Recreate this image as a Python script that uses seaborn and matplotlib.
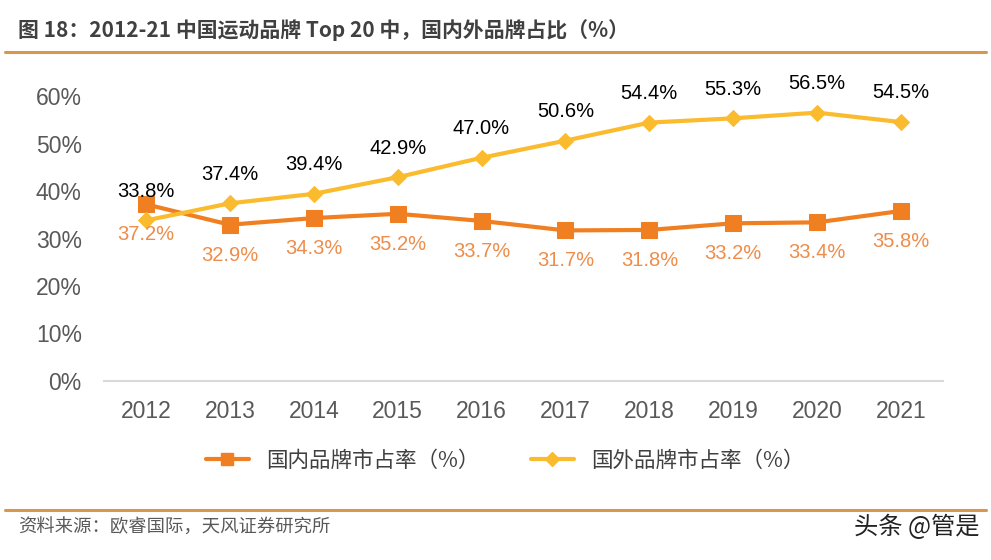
import pandas as pd
import matplotlib
matplotlib.use('Agg')
import matplotlib.pyplot as plt
from matplotlib.lines import Line2D
import seaborn as sns

# data
years = [2012, 2013, 2014, 2015, 2016, 2017, 2018, 2019, 2020, 2021]
domestic = [37.2, 32.9, 34.3, 35.2, 33.7, 31.7, 31.8, 33.2, 33.4, 35.8]
foreign = [33.8, 37.4, 39.4, 42.9, 47.0, 50.6, 54.4, 55.3, 56.5, 54.5]
series_names = ['国内品牌市占率（%）', '国外品牌市占率（%）']
y_ticks = [0, 10, 20, 30, 40, 50, 60]

title = '图 18：2012-21 中国运动品牌 Top 20 中，国内外品牌占比（%）'
source = '资料来源：欧睿国际，天风证券研究所'
mark = '头条 @管是'

c_dom = '#F07F22'
c_for = '#FBBB2E'
c_dom_lbl = '#EE8D4A'

df = pd.DataFrame({
    'year': years * 2,
    'value': domestic + foreign,
    'series': [series_names[0]] * len(years) + [series_names[1]] * len(years),
})

sns.set_style('white')
plt.rcParams['font.family'] = ['Liberation Sans', 'Noto Sans CJK SC', 'DejaVu Sans']

fig = plt.figure(figsize=(9.91, 5.6), dpi=100)
ax = fig.add_axes([104 / 991, 179 / 560, 839 / 991, 285 / 560])

sns.lineplot(data=df, x='year', y='value', hue='series', style='series',
             markers=['s', 'D'], dashes=False, palette=[c_dom, c_for],
             linewidth=3, ax=ax, legend=False)
for ln, ms in zip(ax.lines, [11, 8.5]):
    ln.set_markeredgecolor(ln.get_color())
    ln.set_markersize(ms)

ax.set_xlim(years[0] - 0.5, years[-1] + 0.5)
ax.set_ylim(0, 60)
ax.set_xticks(years)
ax.set_xticklabels([str(y) for y in years])
ax.set_yticks(y_ticks)
ax.set_yticklabels([f'{v}%' for v in y_ticks])
ax.tick_params(axis='both', labelsize=16.5, colors='#595959', length=0)
ax.tick_params(axis='x', pad=14)
ax.tick_params(axis='y', pad=16)
ax.set_xlabel('')
ax.set_ylabel('')
for s in ['top', 'right', 'left']:
    ax.spines[s].set_visible(False)
ax.spines['bottom'].set_color('#D9D9D9')
ax.spines['bottom'].set_linewidth(1.5)

for x, v in zip(years, foreign):
    ax.annotate(f'{v:.1f}%', (x, v), xytext=(0, 21), textcoords='offset points',
                ha='center', va='center', fontsize=14.5, color='black', clip_on=False)
for x, v in zip(years, domestic):
    ax.annotate(f'{v:.1f}%', (x, v), xytext=(0, -22), textcoords='offset points',
                ha='center', va='center', fontsize=14.5, color=c_dom_lbl, clip_on=False)

handles = [Line2D([], [], color=c_dom, lw=3, marker='s', ms=8.5, mec=c_dom),
           Line2D([], [], color=c_for, lw=3, marker='D', ms=7, mec=c_for)]
fig.legend(handles, series_names, loc='center', bbox_to_anchor=(505 / 991, 1 - 461 / 560),
           ncol=2, frameon=False, handlelength=2.0, handletextpad=0.8, columnspacing=2.4,
           prop={'family': ['Noto Sans CJK SC'], 'size': 15.5}, labelcolor='#404040')

fig.text(18 / 991, 1 - 30 / 560, title, fontsize=15, fontweight='bold',
         color='#404040', va='center', family=['Noto Sans CJK SC', 'DejaVu Sans'])
fig.add_artist(Line2D([5 / 991, 986 / 991], [1 - 52 / 560] * 2, color='#D8964E', lw=2.2))
fig.add_artist(Line2D([5 / 991, 986 / 991], [1 - 510 / 560] * 2, color='#D8964E', lw=2.2))
fig.text(18 / 991, 1 - 528 / 560, source, fontsize=13.2, color='#595959',
         va='center', family=['Noto Sans CJK SC', 'DejaVu Sans'])
fig.text(980 / 991, 1 - 527 / 560, mark, fontsize=17.5, color='#222222', ha='right',
         va='center', family=['Noto Sans CJK SC', 'DejaVu Sans'])

fig.savefig('out.png', dpi=100)
